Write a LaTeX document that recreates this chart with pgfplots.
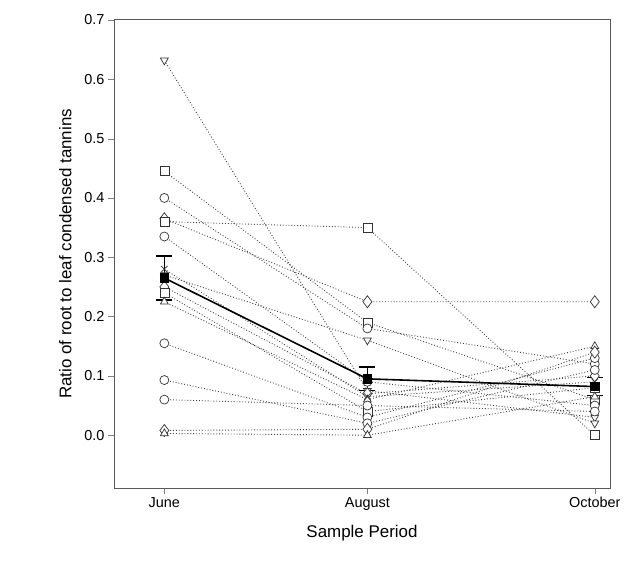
\documentclass[border=0pt]{standalone}
\usepackage{pgfplots}
\pgfplotsset{compat=1.18}
\usepackage{fontspec}
\setmainfont{Liberation Sans}
\begin{document}
\begin{tikzpicture}
\begin{axis}[name=ax,
  scale only axis, width=496bp, height=468bp,
  xmin=-0.248, xmax=2.195, ymin=-0.089, ymax=0.7,
  xtick={0,1,2.12}, xticklabels={June,August,October},
  ytick={0,0.1,...,0.7},
  yticklabel style={/pgf/number format/fixed,/pgf/number format/fixed zerofill,/pgf/number format/precision=1},
  /pgf/number format/assume math mode=true,
  tick align=outside, xtick pos=bottom, ytick pos=left,
  major tick length=6bp,
  tick label style={font=\fontsize{14.5}{16}\selectfont},
  label style={font=\fontsize{17}{19}\selectfont},
  xlabel={Sample Period}, ylabel={Ratio of root to leaf condensed tannins},
  xlabel style={yshift=-8bp}, ylabel style={yshift=6bp},
  axis line style={gray!70!black, line width=1pt},
  every axis plot/.append style={dotted, black!75, line width=0.9pt,
    mark options={solid, fill=white, draw=black!80, line width=0.7pt}, mark size=4.5bp},
  clip=false,
]
\addplot[mark=triangle*, mark options={solid, fill=white, draw=black!80, line width=0.7pt, rotate=180}] coordinates {(0,0.632) (1,0.075) (2.12,0.03)};
\addplot[mark=square*] coordinates {(0,0.445) (1,0.19) (2.12,0.06)};
\addplot[mark=*] coordinates {(0,0.40) (1,0.18) (2.12,0.12)};
\addplot[mark=diamond*, mark size=6bp] coordinates {(0,0.365) (1,0.225) (2.12,0.225)};
\addplot[mark=square*] coordinates {(0,0.36) (1,0.35) (2.12,0.0)};
\addplot[mark=*] coordinates {(0,0.335) (1,0.09) (2.12,0.05)};
\addplot[mark=triangle*, mark options={solid, fill=white, draw=black!80, line width=0.7pt, rotate=180}] coordinates {(0,0.27) (1,0.16) (2.12,0.02)};
\addplot[mark=diamond*, mark size=6bp] coordinates {(0,0.25) (1,0.07) (2.12,0.10)};
\addplot[mark=square*] coordinates {(0,0.24) (1,0.04) (2.12,0.08)};
\addplot[mark=triangle*] coordinates {(0,0.225) (1,0.06) (2.12,0.15)};
\addplot[mark=*] coordinates {(0,0.155) (1,0.03) (2.12,0.13)};
\addplot[mark=*] coordinates {(0,0.093) (1,0.02) (2.12,0.11)};
\addplot[mark=*] coordinates {(0,0.06) (1,0.05) (2.12,0.04)};
\addplot[mark=diamond*, mark size=6bp] coordinates {(0,0.008) (1,0.01) (2.12,0.14)};
\addplot[mark=triangle*] coordinates {(0,0.003) (1,0.0) (2.12,0.065)};
\addplot[mark=x] coordinates {(0,0.28) (1,0.065) (2.12,0.09)};
\addplot[solid, black, line width=1.6pt, mark=square*, mark size=4bp,
  mark options={fill=black, draw=black},
  error bars/.cd, y dir=both, y explicit, error bar style={line width=1.4pt, solid, black},
  error mark options={rotate=90, mark size=8bp, line width=1.4pt, black}]
  coordinates {(0,0.265) +- (0,0.037) (1,0.095) +- (0,0.02) (2.12,0.082) +- (0,0.015)};
\end{axis}
\pgfresetboundingbox
\path ([shift={(-114bp,-74bp)}]ax.south west) rectangle ([shift={(17bp,20bp)}]ax.north east);
\end{tikzpicture}
\end{document}
